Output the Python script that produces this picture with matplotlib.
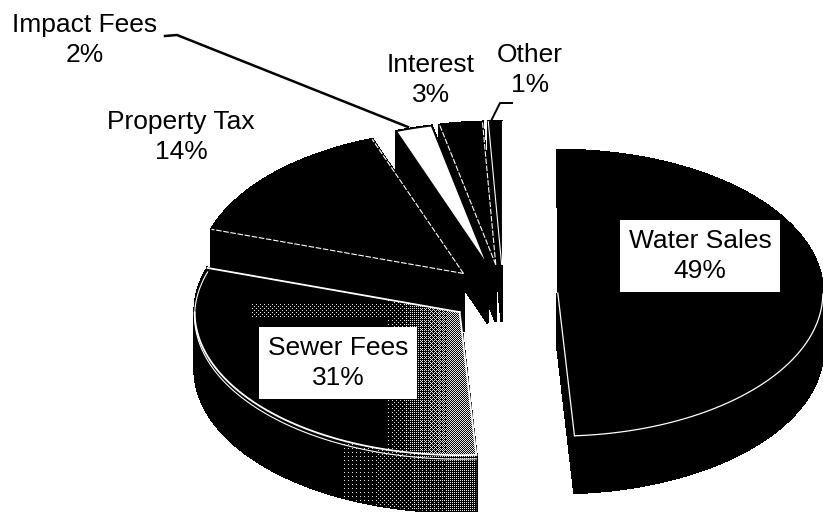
import numpy as np
import matplotlib
matplotlib.use('Agg')
import matplotlib.pyplot as plt
from matplotlib.patches import Polygon

plt.rcParams['font.family'] = ['Liberation Sans', 'DejaVu Sans']

# revenue shares, clockwise from 12 o'clock (decimals)
labels = ['Water Sales', 'Sewer Fees', 'Property Tax', 'Impact Fees', 'Interest', 'Other']
values = [49, 31, 14.4, 2.2, 2.6, 0.8]

# projected pie geometry, in pixels
cx, cy = 503, 294
rx, ry = 265, 143
depth = 57
explode = 0.207

fig = plt.figure(figsize=(8.23, 5.12), dpi=100)
ax = fig.add_axes([0, 0, 1, 1])
ax.set_xlim(0, 823)
ax.set_ylim(512, 0)
ax.axis('off')

edges = np.cumsum([0] + values) / sum(values) * 2 * np.pi


def slice_outline(i):
    a0, a1 = edges[i], edges[i + 1]
    mid = (a0 + a1) / 2
    ax0 = cx + explode * rx * np.sin(mid)
    ay0 = cy - explode * ry * np.cos(mid)
    t = np.linspace(a0, a1, max(int(values[i] * 4), 8))
    return ax0, ay0, t, ax0 + rx * np.sin(t), ay0 - ry * np.cos(t)


def bayer(x, y):
    m = np.array([[0, 8, 2, 10], [12, 4, 14, 6], [3, 11, 1, 9], [15, 7, 13, 5]]) / 16
    return m[y % 4, x % 4]


def speckle(level, clip):
    # white dots on a pixel grid, thresholded against the level field
    rgba = np.zeros(gx.shape + (4,))
    rgba[..., :3] = 0.9
    rgba[..., 3] = bayer(gx, gy) < level
    im = ax.imshow(rgba, extent=(180, 490, 512, 255), interpolation='nearest',
                   aspect='auto', zorder=z + 1.5)
    im.set_clip_path(clip)


gx, gy = np.meshgrid(np.arange(180, 490), np.arange(255, 512))

# back slices first, so the front ones paint over them
order = [5, 4, 3, 2, 1, 0]
z = 2
for i in order:
    ax0, ay0, t, xs, ys = slice_outline(i)
    px = np.r_[ax0, xs]
    py = np.r_[ay0, ys]
    # side walls: one quad per outline segment
    for j in range(len(px)):
        k = (j + 1) % len(px)
        ax.add_patch(Polygon([(px[j], py[j]), (px[k], py[k]),
                              (px[k], py[k] + depth), (px[j], py[j] + depth)],
                             closed=True, fc='black', ec='black', lw=1.2,
                             antialiased=False, zorder=z))
    face = 'white' if labels[i] == 'Impact Fees' else 'black'
    ax.add_patch(Polygon(np.c_[px, py], closed=True, fc=face, ec='black', lw=1, zorder=z + 1))

    if labels[i] == 'Sewer Fees':
        # speckled shading on the right part of this slice
        top_level = np.clip((gx - 385) / 70, 0, 1) * 0.5
        top_level = np.maximum(top_level, 0.07 * ((gy > 303) & (gy < 318) & (gx > 250)))
        speckle(top_level, Polygon(np.c_[px, py], transform=ax.transData))
        wall = np.r_[np.c_[xs, ys], np.c_[xs[::-1], ys[::-1] + depth]]
        speckle(np.clip((gx - 340) / 140, 0, 1) * 0.25, Polygon(wall, transform=ax.transData))
        ax.plot(xs, ys + 4, color='white', lw=0.8, zorder=z + 2)

    if face == 'black':
        style = (0, (5, 1.5)) if labels[i] in ('Property Tax', 'Interest') else '-'
        lw = {'Sewer Fees': 1.3, 'Water Sales': 0.9}.get(labels[i], 0.8)
        # white only where the edge runs over something black
        front = np.cos(t) < 0
        ax.plot(xs[front], ys[front], color='white', lw=lw, zorder=z + 2)
        ax.plot([ax0, xs[-1]], [ay0, ys[-1]], color='white', lw=lw, ls=style, zorder=z + 2)
        if labels[i] != 'Water Sales':
            ax.plot([ax0, xs[0]], [ay0, ys[0]], color='white', lw=lw, ls=style, zorder=z + 2)
    z += 4

# imshow can reset the limits
ax.set_xlim(0, 823)
ax.set_ylim(512, 0)

texts = [f'{n}\n{int(v + 0.5)}%' for n, v in zip(labels, values)]
fs = 19
ls = 1.33
ax.text(85, 40, texts[3], ha='center', va='center', fontsize=fs, linespacing=ls, zorder=50)
ax.text(181, 137, texts[2], ha='center', va='center', fontsize=fs, linespacing=ls, zorder=50)
ax.text(431, 80, texts[4], ha='center', va='center', fontsize=fs, linespacing=ls, zorder=50)
ax.text(530, 70, texts[5], ha='center', va='center', fontsize=fs, linespacing=ls, zorder=50)
box = dict(fc='white', ec='none', pad=6)
ax.text(700, 256, texts[0], ha='center', va='center', fontsize=fs, linespacing=ls, bbox=box, zorder=50)
ax.text(338, 363, texts[1], ha='center', va='center', fontsize=fs, linespacing=ls, bbox=box, zorder=50)

# leader lines
ax.plot([165, 177, 408], [36, 35, 127], color='black', lw=1.8, zorder=50)
ax.plot([512, 500, 491], [103, 103, 121], color='black', lw=1.4, zorder=50)

fig.savefig('out.png', dpi=100, facecolor='white')
